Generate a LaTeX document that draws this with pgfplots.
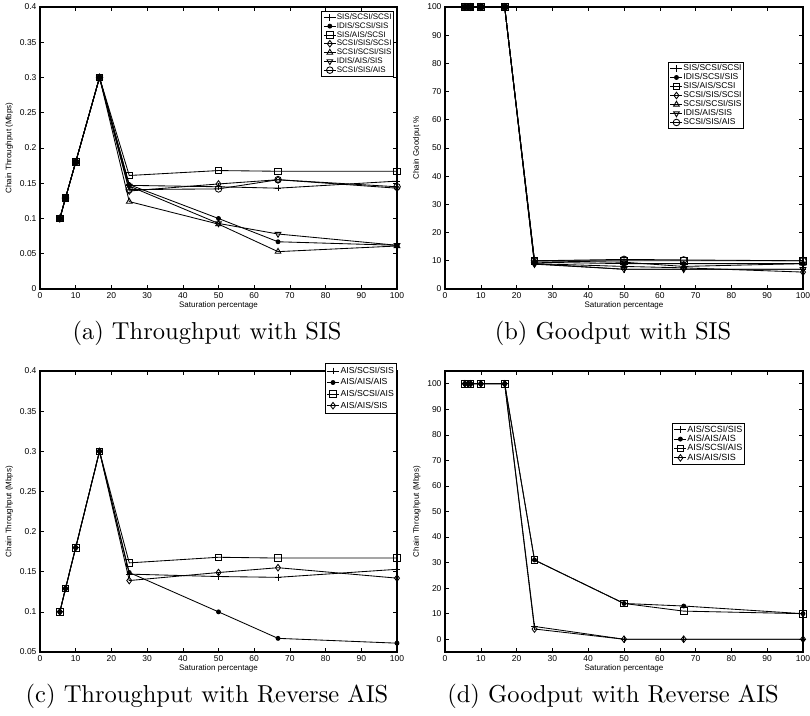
\documentclass[border=0pt]{standalone}
\usepackage{pgfplots}
\pgfplotsset{compat=1.18}
\usepackage{fontspec}
\newfontfamily\helv{Liberation Sans}
\newfontfamily\capfont{lmroman10-regular.otf}

\pgfplotsset{
  mlab/.style={
    scale only axis, width=357pt, height=282pt,
    xmin=0, xmax=100, xtick={0,10,...,100},
    tick label style={font=\helv\fontsize{8.5}{9}\selectfont},
    label style={font=\helv\fontsize{8}{9}\selectfont},
    /pgf/number format/assume math mode=true,
    yticklabel style={/pgf/number format/fixed, /pgf/number format/precision=2},
    xlabel={Saturation percentage},
    xlabel style={yshift=4pt},
    axis line style={line width=1.3pt},
    major tick length=4pt,
    tick style={black, line width=0.6pt},
    every axis plot/.append style={black, line width=0.85pt, mark size=3.3pt},
    legend cell align=left,
    legend style={draw=black, line width=1pt, inner sep=1.5pt, row sep=0pt},
    legend image code/.code={\draw[mark repeat=2,mark phase=2] plot coordinates {(0pt,0pt) (6pt,0pt) (12pt,0pt)};},
  },
  lega/.style={legend style={font=\helv\fontsize{8}{9}\selectfont,
      nodes={inner sep=0.6pt, text height=6pt, text depth=1.6pt}}},
  legb/.style={legend style={font=\helv\fontsize{8.5}{9}\selectfont,
      nodes={inner sep=0.6pt, text height=6.2pt, text depth=1.6pt}}},
  legc/.style={legend style={font=\helv\fontsize{8.7}{10}\selectfont,
      nodes={inner sep=1.2pt, text height=7pt, text depth=2.2pt}}},
  legd/.style={legend style={font=\helv\fontsize{9}{10}\selectfont,
      nodes={inner sep=0.5pt, text height=6.6pt, text depth=1.8pt}}},
  pplus/.style={mark=+},
  pstar/.style={mark=*, mark size=2pt},
  psq/.style={mark=square},
  pdia/.style={mark=diamond},
  ptri/.style={mark=triangle},
  pdtri/.style={mark=triangle, mark options={rotate=180}},
  pcirc/.style={mark=o},
}

\begin{document}
\begin{tikzpicture}
\path[use as bounding box] (0,0) rectangle (810pt,715pt);

% (a) throughput with SIS
\begin{axis}[mlab, lega, at={(40pt,426pt)}, anchor=south west,
  ymin=0, ymax=0.4, ytick={0,0.05,0.1,0.15,0.2,0.25,0.3,0.35,0.4},
  ylabel={Chain Throughput (Mbps)},
  legend style={at={(0.992,0.986)}, anchor=north east}]
\addplot[pplus] coordinates {(5.56,0.1) (7.14,0.129) (10,0.18) (16.67,0.3) (25,0.147) (50,0.145) (66.67,0.143) (100,0.153)};
\addplot[pstar] coordinates {(5.56,0.1) (7.14,0.129) (10,0.18) (16.67,0.3) (25,0.148) (50,0.1) (66.67,0.067) (100,0.062)};
\addplot[psq] coordinates {(5.56,0.1) (7.14,0.129) (10,0.18) (16.67,0.3) (25,0.161) (50,0.168) (66.67,0.167) (100,0.167)};
\addplot[pdia] coordinates {(5.56,0.1) (7.14,0.129) (10,0.18) (16.67,0.3) (25,0.139) (50,0.149) (66.67,0.155) (100,0.143)};
\addplot[ptri] coordinates {(5.56,0.1) (7.14,0.129) (10,0.18) (16.67,0.3) (25,0.124) (50,0.092) (66.67,0.053) (100,0.061)};
\addplot[pdtri] coordinates {(5.56,0.1) (7.14,0.129) (10,0.18) (16.67,0.3) (25,0.146) (50,0.093) (66.67,0.078) (100,0.062)};
\addplot[pcirc] coordinates {(5.56,0.1) (7.14,0.129) (10,0.18) (16.67,0.3) (25,0.141) (50,0.142) (66.67,0.155) (100,0.145)};
\legend{SIS/SCSI/SCSI, IDIS/SCSI/SIS, SIS/AIS/SCSI, SCSI/SIS/SCSI, SCSI/SCSI/SIS, IDIS/AIS/SIS, SCSI/SIS/AIS}
\end{axis}

% (b) goodput with SIS
\begin{axis}[mlab, legb, at={(445pt,426pt)}, anchor=south west, width=358pt,
  ymin=0, ymax=100, ytick={0,10,...,100},
  ylabel={Chain Goodput \%},
  legend style={at={(0.623,0.805)}, anchor=north west}]
\addplot[pplus] coordinates {(5.56,100) (7.14,100) (10,100) (16.67,100) (25,9) (50,7) (66.67,7) (100,7)};
\addplot[pstar] coordinates {(5.56,100) (7.14,100) (10,100) (16.67,100) (25,9.5) (50,9) (66.67,9) (100,9)};
\addplot[psq] coordinates {(5.56,100) (7.14,100) (10,100) (16.67,100) (25,10) (50,10) (66.67,10) (100,10)};
\addplot[pdia] coordinates {(5.56,100) (7.14,100) (10,100) (16.67,100) (25,9) (50,8) (66.67,7.5) (100,6)};
\addplot[ptri] coordinates {(5.56,100) (7.14,100) (10,100) (16.67,100) (25,10) (50,9.5) (66.67,8) (100,9)};
\addplot[pdtri] coordinates {(5.56,100) (7.14,100) (10,100) (16.67,100) (25,8.8) (50,7) (66.67,7) (100,7)};
\addplot[pcirc] coordinates {(5.56,100) (7.14,100) (10,100) (16.67,100) (25,10) (50,10.5) (66.67,10.3) (100,10)};
\legend{SIS/SCSI/SCSI, IDIS/SCSI/SIS, SIS/AIS/SCSI, SCSI/SIS/SCSI, SCSI/SCSI/SIS, IDIS/AIS/SIS, SCSI/SIS/AIS}
\end{axis}

% (c) throughput with reverse AIS
\begin{axis}[mlab, legc, at={(40pt,63pt)}, anchor=south west, height=281pt,
  ymin=0.05, ymax=0.4, ytick={0.05,0.1,0.15,0.2,0.25,0.3,0.35,0.4},
  ylabel={Chain Throughput (Mbps)},
  legend style={at={(1.0,1.028)}, anchor=north east}]
\addplot[pplus] coordinates {(5.56,0.1) (7.14,0.129) (10,0.18) (16.67,0.3) (25,0.147) (50,0.144) (66.67,0.143) (100,0.153)};
\addplot[pstar] coordinates {(5.56,0.1) (7.14,0.129) (10,0.18) (16.67,0.3) (25,0.149) (50,0.1) (66.67,0.067) (100,0.061)};
\addplot[psq] coordinates {(5.56,0.1) (7.14,0.129) (10,0.18) (16.67,0.3) (25,0.161) (50,0.168) (66.67,0.167) (100,0.167)};
\addplot[pdia] coordinates {(5.56,0.1) (7.14,0.129) (10,0.18) (16.67,0.3) (25,0.139) (50,0.149) (66.67,0.155) (100,0.142)};
\legend{AIS/SCSI/SIS, AIS/AIS/AIS, AIS/SCSI/AIS, AIS/AIS/SIS}
\end{axis}

% (d) goodput with reverse AIS
\begin{axis}[mlab, legd, at={(445pt,63pt)}, anchor=south west, width=358pt, height=281pt,
  ymin=-5, ymax=105, ytick={0,10,...,100},
  ylabel={Chain Throughput (Mbps)},
  legend style={at={(0.634,0.815)}, anchor=north west}]
\addplot[pplus] coordinates {(5.56,100) (7.14,100) (10,100) (16.67,100) (25,5) (50,0) (66.67,0) (100,0)};
\addplot[pstar] coordinates {(5.56,100) (7.14,100) (10,100) (16.67,100) (25,31) (50,14) (66.67,13) (100,10)};
\addplot[psq] coordinates {(5.56,100) (7.14,100) (10,100) (16.67,100) (25,31) (50,14) (66.67,11) (100,10)};
\addplot[pdia] coordinates {(5.56,100) (7.14,100) (10,100) (16.67,100) (25,4) (50,0) (66.67,0) (100,0)};
\legend{AIS/SCSI/SIS, AIS/AIS/AIS, AIS/SCSI/AIS, AIS/AIS/SIS}
\end{axis}

\node[font=\capfont\fontsize{24.5}{28}\selectfont] at (207pt,382pt) {(a) Throughput with SIS};
\node[font=\capfont\fontsize{24.5}{28}\selectfont] at (613pt,382pt) {(b) Goodput with SIS};
\node[font=\capfont\fontsize{24.5}{28}\selectfont] at (207pt,19pt) {(c) Throughput with Reverse AIS};
\node[font=\capfont\fontsize{24.5}{28}\selectfont] at (613pt,19pt) {(d) Goodput with Reverse AIS};
\end{tikzpicture}
\end{document}
